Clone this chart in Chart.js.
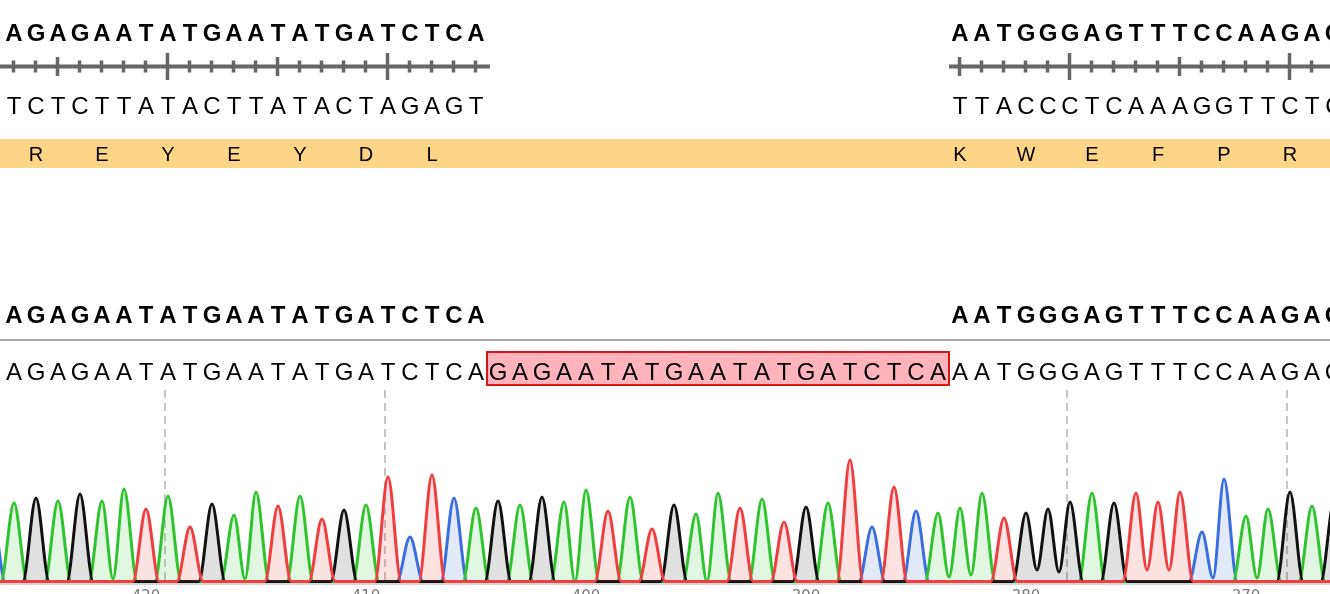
<!DOCTYPE html>
<html><head><meta charset="utf-8">
<script src="https://cdn.jsdelivr.net/npm/chart.js@4/dist/chart.umd.min.js"></script>
<style>
html,body{margin:0;padding:0;overflow:hidden;background:#fff}
#wrap{position:relative;width:1330px;height:624px}
</style>
</head><body>
<div id="wrap"><canvas id="c"></canvas></div>
<script>
// ---------- data ----------
const readStart = -1; // read index of first letter below
const readSeq = "C" + "AGAGAATATGAATATGATCTCA" + "GAGAATATGAATATGATCTCA" + "AATGGGAGTTTCCAAGAG";
const peakHeights = [700,
  790,840,810,880,810,930,730,860,550,780,670,900,760,860,630,720,770,1050,450,1070,840,740,
  810,770,850,800,920,710,850,530,770,680,890,740,830,600,750,790,1220,550,950,710,690,
  740,890,640,690,730,800,890,790,890,800,900,500,1030,660,730,900,760,800];
const valleyAt     = [4.5, 10.5, 42.5, 43.5, 46.5, 47.5, 51.5, 52.5, 54.5, 56.5];
const valleySignal = [30,  30,   50,   70,   120,  100,  120,  120,  40,   40];
const insertFirst = 22, insertLast = 42;
const refLeft = "AGAGAATATGAATATGATCTCA", refLeftStart = 0;
const refRight = "AATGGGAGTTTCCAAGAG", refRightStart = 43;
const compLeft = "TCTCTTATACTTATACTAGAGT";
const compRight = "TTACCCTCAAAGGTTCTC";
const aminoLeft = ["R","E","Y","E","Y","D","L"], aminoLeftStart = 1;
const aminoRight = ["K","W","E","F","P","R"], aminoRightStart = 43;
const traceTickLabels = [420,410,400,390,380,370];
const tracePosOfFirst = 426;   // trace position of read index 0
const baselineSignal = 5;

// ---------- style ----------
const viewMin = -14/22, viewMax = 1316/22;
const peakHalfWidth = 0.6;
const baseColors = {A:'#2fc42f', C:'#3b6fe0', G:'#111111', T:'#ef3e3e'};
const baseFills  = {A:'rgba(47,196,47,0.14)', C:'rgba(59,111,224,0.15)', G:'rgba(0,0,0,0.12)', T:'rgba(239,62,62,0.15)'};

function refToRead(r){ return r < refLeft.length ? refLeftStart + r : refRightStart + (r - refLeft.length); }
const refLen = refLeft.length + refRight.length;
const majorRead = [], mediumRead = [];
for (let r = 0; r < refLen; r++){ if (r % 10 === 7) majorRead.push(refToRead(r)); if (r % 10 === 2) mediumRead.push(refToRead(r)); }

function channelData(base){
  const pts = [{x: readStart - 1, y: baselineSignal}];
  for (let k = 0; k < readSeq.length; k++){
    if (readSeq[k] !== base) continue;
    const i = readStart + k;
    if (readSeq[k - 1] !== base) pts.push({x: i - peakHalfWidth, y: baselineSignal});
    pts.push({x: i, y: peakHeights[k]});
    if (readSeq[k + 1] === base){
      const vi = valleyAt.indexOf(i + 0.5);
      pts.push({x: i + 0.5, y: vi >= 0 ? valleySignal[vi] : baselineSignal});
    } else pts.push({x: i + peakHalfWidth, y: baselineSignal});
  }
  pts.push({x: readStart + readSeq.length + 1, y: baselineSignal});
  return pts;
}

const datasets = ['T','G','A','C'].map(b => ({
  label: b, data: channelData(b), borderColor: baseColors[b], backgroundColor: baseFills[b],
  borderWidth: 3, pointRadius: 0, fill: 'origin', cubicInterpolationMode: 'monotone'
}));

const overlay = {
  id: 'overlay',
  afterDraw(chart){
    const ctx = chart.ctx, xs = chart.scales.x, W = chart.width;
    const px = v => xs.getPixelForValue(v);
    ctx.save();
    ctx.fillStyle = '#fed487';
    ctx.fillRect(0, 139, W, 29);
    const bx0 = px(insertFirst - 0.5), bx1 = px(insertLast + 0.5);
    ctx.fillStyle = '#ffb4bc';
    ctx.fillRect(bx0, 352, bx1 - bx0, 33);
    ctx.strokeStyle = '#dd1414'; ctx.lineWidth = 2;
    ctx.strokeRect(bx0, 352, bx1 - bx0, 33);
    ctx.fillStyle = '#aaaaaa';
    ctx.fillRect(0, 339, W, 2);
    ctx.textAlign = 'center'; ctx.textBaseline = 'alphabetic'; ctx.fillStyle = '#000';
    const row = (s, start, y, font) => { ctx.font = font; for (let k = 0; k < s.length; k++) ctx.fillText(s[k], px(start + k), y); };
    const bold = 'bold 24px "Liberation Sans", Arial, sans-serif';
    const reg = '24px "Liberation Sans", Arial, sans-serif';
    row(refLeft, refLeftStart, 41, bold); row(refRight, refRightStart, 41, bold);
    row(compLeft, refLeftStart, 114, reg); row(compRight, refRightStart, 114, reg);
    row(refLeft, refLeftStart, 323, bold); row(refRight, refRightStart, 323, bold);
    row(readSeq, readStart, 380, reg);
    ctx.font = '20px "Liberation Sans", Arial, sans-serif';
    aminoLeft.forEach((a, k) => ctx.fillText(a, px(aminoLeftStart + 3*k), 161));
    aminoRight.forEach((a, k) => ctx.fillText(a, px(aminoRightStart + 3*k), 161));
    ctx.strokeStyle = '#666666'; ctx.lineWidth = 4;
    ctx.beginPath();
    ctx.moveTo(0, 66.5); ctx.lineTo(px(refLeftStart + refLeft.length - 0.5) + 3, 66.5);
    ctx.moveTo(px(refRightStart - 0.5), 66.5); ctx.lineTo(W, 66.5);
    ctx.stroke();
    ctx.lineWidth = 3.5;
    ctx.beginPath();
    for (let r = 0; r < refLen; r++){
      const i = refToRead(r), x = Math.round(px(i)) - 0.5;
      const h = majorRead.includes(i) ? 13.5 : mediumRead.includes(i) ? 9.5 : 6;
      ctx.moveTo(x, 66.5 - h); ctx.lineTo(x, 66.5 + h);
    }
    ctx.stroke();
    ctx.restore();
  }
};

new Chart(document.getElementById('c'), {
  type: 'line',
  data: { datasets },
  options: {
    responsive: true, maintainAspectRatio: false, animation: false,
    layout: { padding: { top: 390, left: 0, right: 0, bottom: 0 } },
    plugins: { legend: { display: false }, tooltip: { enabled: false } },
    scales: {
      x: {
        type: 'linear', min: viewMin, max: viewMax, position: 'bottom',
        afterBuildTicks: s => { s.ticks = traceTickLabels.map(p => ({ value: tracePosOfFirst - p })); },
        afterFit: s => { s.height = 40; },
        ticks: { autoSkip: false, maxRotation: 0, padding: 4, color: '#7a7a7a',
          font: { size: 15, family: '"DejaVu Sans", sans-serif' },
          callback: v => String(Math.round(tracePosOfFirst - v)) },
        grid: { display: false, drawTicks: false },
        border: { display: true, color: '#d6d6d6', width: 2 }
      },
      xr: {
        type: 'linear', min: viewMin, max: viewMax, position: 'bottom',
        afterBuildTicks: s => { s.ticks = majorRead.map(v => ({ value: v - 0.12 })); },
        afterFit: s => { s.height = 0; },
        ticks: { display: false },
        grid: { display: true, drawTicks: false, drawOnChartArea: true, color: '#c6c6c6', lineWidth: 2 },
        border: { display: false, dash: [8, 5] }
      },
      y: { display: false, min: -20, max: 1920 }
    }
  },
  plugins: [overlay]
});
</script>
</body></html>
